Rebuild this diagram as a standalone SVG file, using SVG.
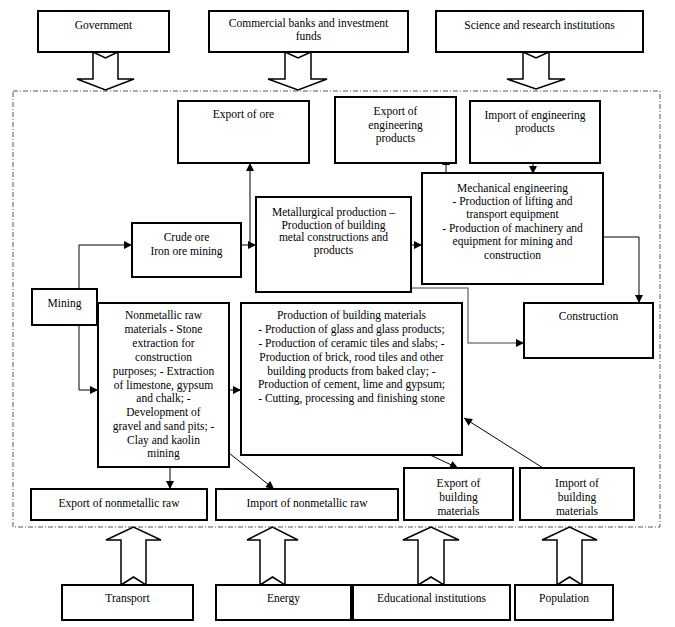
<svg xmlns="http://www.w3.org/2000/svg" width="675" height="627" viewBox="0 0 675 627">
<style>
.box{fill:#fff;stroke:#000;stroke-width:2}
.t{font-family:"Liberation Serif","Times New Roman",serif;font-size:11.5px;fill:#000;text-anchor:middle}
.c{fill:none;stroke:#000;stroke-width:1}
.g{fill:none;stroke:#808080;stroke-width:1.5}
.blk{fill:#fff;stroke:#000;stroke-width:1.5;stroke-linejoin:miter}
.frame{fill:none;stroke:#555;stroke-width:1;stroke-dasharray:5 2 1 2}
</style>
<defs>
<marker id="ah" viewBox="0 0 10 10" refX="10" refY="5" markerWidth="9" markerHeight="8" markerUnits="userSpaceOnUse" orient="auto">
<path d="M0,0 L10,5 L0,10 Z" fill="#000"/>
</marker>
</defs>
<rect width="675" height="627" fill="#fff"/>
<rect class="frame" x="13" y="91" width="647" height="436"/>

<g id="block-arrows">
<path class="blk" d="M93,52 L105.5,58 L118,52 L118,79 L134,79 L105.5,90 L77,79 L93,79 Z"/>
<path class="blk" d="M285,52 L298,58 L311,52 L311,79 L327,79 L298,90 L268,79 L285,79 Z"/>
<path class="blk" d="M523,52 L536,58 L549,52 L549,79 L565,79 L536,89 L507,79 L523,79 Z"/>
<path class="blk" d="M121,585 L133.5,577 L146,585 L146,540 L161,540 L133.5,527 L106,540 L121,540 Z"/>
<path class="blk" d="M260,585 L272.5,577 L285,585 L285,540 L298,540 L272.5,527 L247,540 L260,540 Z"/>
<path class="blk" d="M418,585 L431,577 L444,585 L444,540 L459,540 L431,527 L403,540 L418,540 Z"/>
<path class="blk" d="M557,585 L569.5,577 L582,585 L582,540 L597,540 L569.5,527 L542,540 L557,540 Z"/>
</g>

<g id="connectors">
<path class="c" d="M79,289 V245 H132" marker-end="url(#ah)"/>
<path class="c" d="M241,245 H256" marker-end="url(#ah)"/>
<path class="c" d="M250,245 V163" marker-end="url(#ah)"/>
<path class="c" d="M411,245 H422" marker-end="url(#ah)"/>
<path class="c" d="M446,173 V157" marker-end="url(#ah)"/>
<path class="c" d="M533,163 V174" marker-end="url(#ah)"/>
<path class="c" d="M603,237 H639 V303" marker-end="url(#ah)"/>
<path class="g" d="M411,288 H468 V343 H524" marker-end="url(#ah)"/>
<path class="c" d="M79,325 V390 H98" marker-end="url(#ah)"/>
<path class="c" d="M229,390 H241" marker-end="url(#ah)"/>
<path class="c" d="M170,467 V489" marker-end="url(#ah)"/>
<path class="c" d="M229,453 L274,489" marker-end="url(#ah)"/>
<path class="c" d="M430,455 L458,468" marker-end="url(#ah)"/>
<path class="c" d="M543,468 L464,418" marker-end="url(#ah)"/>
</g>

<g id="government"><rect class="box" x="38" y="11" width="131" height="41"/><text class="t" x="103.5" y="29">Government</text></g>
<g id="banks"><rect class="box" x="209" y="11" width="199" height="41"/><text class="t" x="308.5" y="27">Commercial banks and investment</text><text class="t" x="308.5" y="40">funds</text></g>
<g id="science"><rect class="box" x="436" y="11" width="207" height="41"/><text class="t" x="539.5" y="29">Science and research institutions</text></g>

<g id="export-ore"><rect class="box" x="178" y="101" width="131" height="62"/><text class="t" x="243.5" y="118">Export of ore</text></g>
<g id="export-eng"><rect class="box" x="335" y="97" width="121" height="66"/><text class="t" x="395.5" y="115">Export of</text><text class="t" x="395.5" y="128.5">engineering</text><text class="t" x="395.5" y="142">products</text></g>
<g id="import-eng"><rect class="box" x="470" y="101" width="130" height="62"/><text class="t" x="535" y="119">Import of engineering</text><text class="t" x="535" y="132">products</text></g>

<g id="crude-ore"><rect class="box" x="132" y="223" width="109" height="54"/><text class="t" x="186.5" y="241">Crude ore</text><text class="t" x="186.5" y="255">Iron ore mining</text></g>
<g id="metallurgical"><rect class="box" x="256" y="197" width="155" height="95"/><text class="t" x="333.5" y="216">Metallurgical  production –</text><text class="t" x="333.5" y="228.5">Production of building</text><text class="t" x="333.5" y="241">metal constructions and</text><text class="t" x="333.5" y="253.5">products</text></g>
<g id="mechanical"><rect class="box" x="422" y="173" width="181" height="111"/><text class="t" x="512.5" y="192">Mechanical  engineering</text><text class="t" x="512.5" y="205">- Production of lifting and</text><text class="t" x="512.5" y="218">transport equipment</text><text class="t" x="512.5" y="232">- Production of machinery and</text><text class="t" x="512.5" y="245">equipment  for mining and</text><text class="t" x="512.5" y="259">construction</text></g>

<g id="mining"><rect class="box" x="32" y="289" width="65" height="36"/><text class="t" x="64.5" y="307">Mining</text></g>
<g id="construction"><rect class="box" x="524" y="303" width="129" height="55"/><text class="t" x="588.5" y="320">Construction</text></g>
<g id="nonmetallic"><rect class="box" x="98" y="303" width="131" height="164"/>
<text class="t" x="163.5" y="319">Nonmetallic raw</text><text class="t" x="163.5" y="333">materials  - Stone</text><text class="t" x="163.5" y="347">extraction  for</text><text class="t" x="163.5" y="361">construction</text><text class="t" x="163.5" y="375">purposes; - Extraction</text><text class="t" x="163.5" y="388.5">of limestone,  gypsum</text><text class="t" x="163.5" y="402">and chalk; -</text><text class="t" x="163.5" y="416">Development  of</text><text class="t" x="163.5" y="430">gravel and sand pits; -</text><text class="t" x="163.5" y="443.5">Clay and kaolin</text><text class="t" x="163.5" y="457">mining</text></g>
<g id="building-materials"><rect class="box" x="241" y="303" width="221" height="152"/>
<text class="t" x="351.5" y="319">Production of building materials</text><text class="t" x="351.5" y="333">- Production of glass and glass products;</text><text class="t" x="351.5" y="347">- Production of ceramic  tiles and slabs; -</text><text class="t" x="351.5" y="360.5">Production of brick, rood tiles and other</text><text class="t" x="351.5" y="374.5">building products from baked clay; -</text><text class="t" x="351.5" y="388">Production of cement,  lime and gypsum;</text><text class="t" x="351.5" y="402">- Cutting, processing and finishing stone</text></g>

<g id="export-nonmetallic"><rect class="box" x="31" y="489" width="176" height="31"/><text class="t" x="119" y="507">Export of nonmetallic  raw</text></g>
<g id="import-nonmetallic"><rect class="box" x="216" y="489" width="182" height="31"/><text class="t" x="307" y="507">Import of nonmetallic  raw</text></g>
<g id="export-building"><rect class="box" x="404" y="468" width="109" height="52"/><text class="t" x="458.5" y="487">Export of</text><text class="t" x="458.5" y="501">building</text><text class="t" x="458.5" y="515">materials</text></g>
<g id="import-building"><rect class="box" x="520" y="468" width="114" height="52"/><text class="t" x="577" y="487">Import of</text><text class="t" x="577" y="501">building</text><text class="t" x="577" y="515">materials</text></g>

<g id="transport"><rect class="box" x="62" y="585" width="131" height="35"/><text class="t" x="127.5" y="602">Transport</text></g>
<g id="energy"><rect class="box" x="216" y="585" width="135" height="35"/><text class="t" x="283.5" y="602">Energy</text></g>
<g id="educational"><rect class="box" x="353" y="585" width="157" height="35"/><text class="t" x="431.5" y="602">Educational  institutions</text></g>
<g id="population"><rect class="box" x="515" y="585" width="98" height="35"/><text class="t" x="564" y="602">Population</text></g>
</svg>
